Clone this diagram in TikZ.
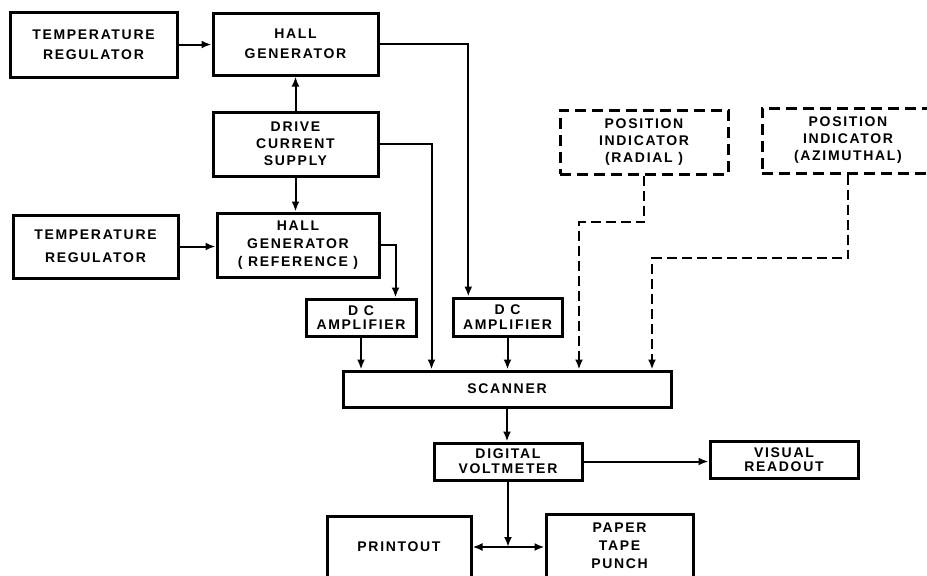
\documentclass[tikz,border=0pt]{standalone}
\usepackage{fontspec}
\newfontfamily\blkfont{Liberation Sans}[LetterSpace=12]
\usetikzlibrary{arrows.meta,calc,positioning}

\tikzset{
  blk/.style={draw, line width=3pt, align=center, inner sep=0pt,
    font=\blkfont\bfseries\fontsize{14}{#1}\selectfont},
  blk/.default=18,
  dblk/.style={blk=#1, line width=3pt, dash pattern=on 11pt off 6pt},
  dblk/.default=17,
  ln/.style={line width=2pt, -{Latex[length=10pt,width=8pt]}},
  dsh/.style={ln, dash pattern=on 10pt off 5pt}
}

\begin{document}
\begin{tikzpicture}[x=1pt,y=-1pt]
    \useasboundingbox (0,0) rectangle (927,576);
    \clip (0,0) rectangle (927,576);

    % Hall generator branch
    \node[blk=20, minimum width=167, minimum height=65] (tr1) at (93.5,44.5) {TEMPERATURE\\REGULATOR};
    \node[blk=20, minimum width=165, minimum height=62] (hg1) at (295.5,44) {HALL\\GENERATOR};
    \node[blk=17, minimum width=165, minimum height=64] (dcs) at (295.5,144) {DRIVE\\CURRENT\\SUPPLY};
    \node[blk=23, minimum width=165, minimum height=63] (tr2) at (95.5,246.5) {TEMPERATURE\\REGULATOR};
    \node[blk=18, minimum width=162, minimum height=64] (hg2) at (298,245) {HALL\\GENERATOR\\( REFERENCE )};

    % Amplifiers and scanner
    \node[blk=14.5, minimum width=110, minimum height=37] (amp1) at (361,317.5) {D C\\AMPLIFIER};
    \node[blk=14.5, minimum width=109, minimum height=38] (amp2) at (507.5,317) {D C\\AMPLIFIER};
    \node[blk, minimum width=328, minimum height=36] (scan) at (507,389) {SCANNER};

    % Position indicators
    \node[dblk, minimum width=168, minimum height=64] (rad) at (644,142) {POSITION\\INDICATOR\\(RADIAL )};
    \node[dblk, minimum width=172, minimum height=65] (azi) at (848,140.5) {POSITION\\INDICATOR\\(AZIMUTHAL)};

    % Output devices
    \node[blk=15, minimum width=148, minimum height=37] (dvm) at (508,461.5) {DIGITAL\\VOLTMETER};
    \node[blk=14.5, minimum width=148, minimum height=37] (vis) at (784,459.5) {VISUAL\\READOUT};
    \node[blk, minimum width=144, minimum height=62] (prn) at (399,547) {PRINTOUT};
    \node[blk=18, minimum width=147, minimum height=64] (tape) at (619.5,546) {PAPER\\TAPE\\PUNCH};

    % Connectors
    \draw[ln] (tr1.east) -- (tr1.east -| hg1.west);
    \draw[ln] (dcs.north) -- (hg1.south);
    \draw[ln] (dcs.south) -- (dcs.south |- hg2.north);
    \draw[ln] (tr2.east) -- (tr2.east -| hg2.west);
    \draw[ln] (hg1.east) -| ($(amp2.north west)!0.15!(amp2.north east)$);
    \draw[ln] (dcs.east) -| ($(scan.north west)+(90,0)$);
    \draw[ln] (hg2.east) -| ($(amp1.north west)+(91,0)$);
    \draw[ln] (amp1.south) -- (amp1.south |- scan.north);
    \draw[ln] (amp2.south) -- (amp2.south |- scan.north);

    % Dashed position lines
    \coordinate (radk) at (579,222);
    \coordinate (azik) at (652,258);
    \draw[dsh] (rad.south) |- (radk) -- (radk |- scan.north);
    \draw[dsh] (azi.south) |- (azik) -- (azik |- scan.north);

    % Readout chain
    \draw[ln] (scan.south) -- (scan.south |- dvm.north);
    \draw[ln] (dvm.east) -- (dvm.east -| vis.west);
    \coordinate (jn) at (dvm.south |- prn.east);
    \draw[ln] (dvm.south) -- (jn);
    \draw[ln] (jn) -- (prn.east);
    \draw[ln] (jn) -- (jn -| tape.west);
\end{tikzpicture}
\end{document}
